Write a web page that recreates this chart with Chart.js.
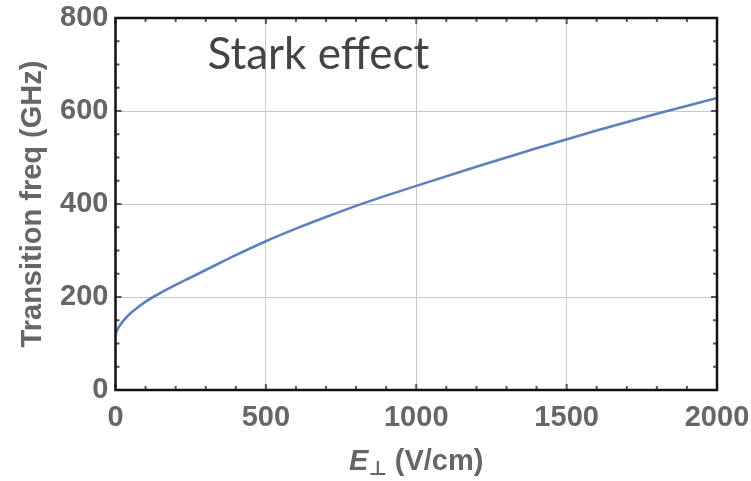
<!DOCTYPE html>
<html>
<head>
<meta charset="utf-8">
<script src="https://cdn.jsdelivr.net/npm/chart.js@4.4.1/dist/chart.umd.min.js"></script>
<style>
  html, body { margin: 0; padding: 0; background: #fff; }
  #wrap { width: 751px; height: 481px; }
</style>
</head>
<body>
<div id="wrap"><canvas id="stark"></canvas></div>
<script>
// Campo perpendicular (V/cm) y frecuencia de transición (GHz)
const eField = [0, 5, 10, 25, 50, 75, 100, 150, 200, 250, 300, 400, 500, 600, 700, 800, 900, 1000, 1200, 1400, 1600, 1800, 2000];
const freq   = [120, 128, 134, 148, 165, 178, 190, 209, 226, 242, 258, 290, 320, 347, 372, 396, 418, 439, 480, 520, 558, 594, 628];

const xTicks = [0, 500, 1000, 1500, 2000];
const yTicks = [0, 200, 400, 600, 800];
const xMinor = 100;
const yMinor = 50;

const sansBold = '"Liberation Sans", Arial, sans-serif';
const labelFont = { family: sansBold, size: 29, weight: 'bold' };
const gray = '#666666';

// marco negro con marcas hacia dentro en los cuatro lados
const framePlugin = {
  id: 'frame',
  afterDatasetsDraw(chart) {
    const { ctx, chartArea: a, scales } = chart;
    const x = scales.x, y = scales.y;
    ctx.save();
    ctx.strokeStyle = '#555';
    ctx.lineWidth = 2;
    for (let v = x.min; v <= x.max; v += xMinor) {
      const px = x.getPixelForValue(v);
      const len = xTicks.includes(v) ? 6 : 4;
      ctx.beginPath();
      ctx.moveTo(px, a.bottom); ctx.lineTo(px, a.bottom - len);
      ctx.moveTo(px, a.top); ctx.lineTo(px, a.top + len);
      ctx.stroke();
    }
    for (let v = y.min; v <= y.max; v += yMinor) {
      const py = y.getPixelForValue(v);
      const len = yTicks.includes(v) ? 6 : 4;
      ctx.beginPath();
      ctx.moveTo(a.left, py); ctx.lineTo(a.left + len, py);
      ctx.moveTo(a.right, py); ctx.lineTo(a.right - len, py);
      ctx.stroke();
    }
    ctx.strokeStyle = '#111';
    ctx.lineWidth = 2.5;
    ctx.strokeRect(a.left, a.top, a.right - a.left, a.bottom - a.top);
    ctx.restore();
  }
};

// textos: etiqueta interior y títulos de los ejes
const textPlugin = {
  id: 'texts',
  afterDraw(chart) {
    const { ctx, chartArea: a } = chart;
    ctx.save();
    ctx.fillStyle = '#444';
    ctx.font = '44px Lato, "Open Sans", sans-serif';
    ctx.textBaseline = 'alphabetic';
    ctx.fillText('Stark effect', a.left + 92, a.top + 51);

    // título eje x: E⊥ (V/cm)
    ctx.fillStyle = gray;
    const cx = (a.left + a.right) / 2;
    const base = 470;
    ctx.font = 'italic bold 29px ' + sansBold;
    const wE = ctx.measureText('E').width;
    ctx.font = 'bold 20px "DejaVu Sans", sans-serif';
    const wP = ctx.measureText('⊥').width;
    ctx.font = 'bold 29px ' + sansBold;
    const rest = ' (V/cm)';
    const wR = ctx.measureText(rest).width;
    let sx = cx - (wE + wP + wR) / 2;
    ctx.font = 'italic bold 29px ' + sansBold;
    ctx.fillText('E', sx, base);
    sx += wE;
    ctx.font = 'bold 20px "DejaVu Sans", sans-serif';
    ctx.fillText('⊥', sx, base + 5);
    sx += wP;
    ctx.font = 'bold 29px ' + sansBold;
    ctx.fillText(rest, sx, base);

    // título eje y
    ctx.translate(33, (a.top + a.bottom) / 2);
    ctx.rotate(-Math.PI / 2);
    ctx.textAlign = 'center';
    ctx.textBaseline = 'middle';
    ctx.fillText('Transition freq (GHz)', 0, 0);
    ctx.restore();
  }
};

document.addEventListener('DOMContentLoaded', () => {
  const ctx = document.getElementById('stark').getContext('2d');
  new Chart(ctx, {
    type: 'line',
    data: {
      datasets: [{
        data: eField.map((e, i) => ({ x: e, y: freq[i] })),
        borderColor: 'rgb(94, 129, 189)',
        borderWidth: 2.6,
        pointRadius: 0,
        fill: false,
        cubicInterpolationMode: 'monotone'
      }]
    },
    options: {
      responsive: true,
      maintainAspectRatio: false,
      animation: false,
      layout: { padding: { top: 18, right: 34, left: 0, bottom: 0 } },
      plugins: { legend: { display: false }, tooltip: { enabled: false } },
      scales: {
        x: {
          type: 'linear',
          min: 0, max: 2000,
          afterBuildTicks: s => { s.ticks = xTicks.map(v => ({ value: v })); },
          afterFit: s => { s.height = 91; s.paddingLeft = 0; s.paddingRight = 0; },
          border: { display: false },
          grid: { color: '#c8c8c8', lineWidth: 1, drawTicks: false },
          ticks: { color: gray, font: labelFont, padding: 11, maxRotation: 0, callback: v => String(v) }
        },
        y: {
          type: 'linear',
          min: 0, max: 800,
          afterBuildTicks: s => { s.ticks = yTicks.map(v => ({ value: v })); },
          afterFit: s => { s.width = 115.5; s.paddingTop = 0; s.paddingBottom = 0; },
          border: { display: false },
          grid: { color: '#c8c8c8', lineWidth: 1, drawTicks: false },
          ticks: { color: gray, font: labelFont, padding: 7, callback: v => String(v) }
        }
      }
    },
    plugins: [framePlugin, textPlugin]
  });
});
</script>
</body>
</html>
